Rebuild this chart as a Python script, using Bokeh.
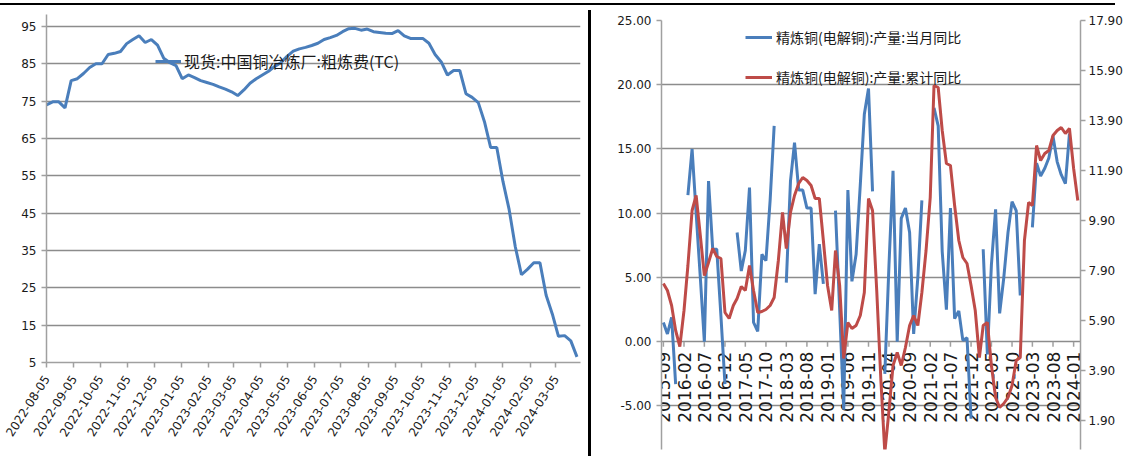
import numpy as np
import pandas as pd
from bokeh.plotting import figure
from bokeh.models import (ColumnDataSource, FixedTicker, DatetimeTickFormatter,
                          NumeralTickFormatter, LinearAxis, Range1d, Legend, LegendItem, Div)
from bokeh.core.properties import value
from bokeh.layouts import row, column
from bokeh.embed import file_html
from bokeh.resources import INLINE

# ---------------- data: left chart (weekly TC, USD/t) ----------------
tc_first_week = "2022-08-05"
tc_label = "现货:中国铜冶炼厂:粗炼费(TC)"
tc_values = [74.0, 74.8, 74.8, 73.2, 80.5, 81.0, 82.4, 84.0, 85.0, 85.0,
             87.5, 87.8, 88.3, 90.4, 91.5, 92.5, 90.7, 91.5, 90.0, 86.5,
             85.3, 84.5, 81.0, 82.0, 81.3, 80.5, 80.0, 79.5, 78.8, 78.2,
             77.5, 76.5, 78.0, 79.8, 81.0, 82.0, 83.0, 84.3, 85.3, 87.0,
             88.4, 89.0, 89.4, 89.9, 90.5, 91.5, 92.0, 92.6, 93.6, 94.4,
             94.5, 94.0, 94.3, 93.6, 93.4, 93.2, 93.1, 93.9, 92.5, 91.8,
             91.8, 91.8, 90.5, 87.5, 85.5, 82.0, 83.2, 83.2, 77.0, 76.0,
             74.6, 69.5, 62.6, 62.6, 53.5, 46.0, 36.0, 28.5, 30.0, 31.7,
             31.7, 23.0, 18.0, 12.0, 12.2, 10.8, 6.5]
tc_tick_dates = ["2022-08-05", "2022-09-05", "2022-10-05", "2022-11-05", "2022-12-05",
                 "2023-01-05", "2023-02-05", "2023-03-05", "2023-04-05", "2023-05-05",
                 "2023-06-05", "2023-07-05", "2023-08-05", "2023-09-05", "2023-10-05",
                 "2023-11-05", "2023-12-05", "2024-01-05", "2024-02-05", "2024-03-05"]
tc_y_ticks = [5, 15, 25, 35, 45, 55, 65, 75, 85, 95]

# ---------------- data: right chart (monthly, %) ----------------
first_month = "2015-09"
monthly_label = "精炼铜(电解铜):产量:当月同比"
cumul_label = "精炼铜(电解铜):产量:累计同比"
monthly_yoy = [1.5, 0.6, 1.9, -3.3, None, None, 11.4, 15.0, 10.0, 5.0,
               0.0, 12.5, 7.2, 7.2, 2.0, -3.3, None, None, 8.5, 5.5,
               7.1, 12.0, 1.5, 0.8, 6.8, 6.3, 11.0, 16.8, None, None,
               4.6, 12.5, 15.5, 11.8, 11.8, 10.4, 10.4, 3.7, 7.6, 4.5,
               None, None, 10.2, 2.5, -5.3, 11.8, 4.7, 6.8, 12.2, 17.7,
               19.7, 11.7, None, None, -2.5, 6.0, 13.3, 0.0, 9.6, 10.4,
               8.5, 0.6, 5.0, 11.0, None, None, 18.2, 16.8, 7.0, 2.5,
               10.4, 1.8, 2.4, 0.1, 0.3, -6.0, None, None, 7.2, -1.0,
               6.0, 10.3, 2.2, 5.0, 8.5, 10.9, 10.2, 3.6, None, None,
               8.9, 13.9, 12.9, 13.5, 14.3, 16.0, 14.0, 13.0, 12.3, 16.2,
               None, None]
cumul_yoy = [7.38, 7.10, 6.50, 5.50, 4.86, 6.30, 8.10, 10.30, 10.90, 9.30,
             7.70, 8.22, 8.78, 8.46, 8.38, 6.22, 5.98, 6.50, 6.78, 7.26,
             7.10, 8.10, 7.10, 6.22, 6.26, 6.34, 6.50, 6.82, 8.30, 10.22,
             8.78, 10.22, 10.90, 11.38, 11.62, 11.50, 11.30, 10.78, 10.78, 9.10,
             7.30, 6.30, 8.70, 7.30, 4.38, 5.82, 5.58, 5.70, 6.10, 7.02,
             10.78, 10.30, 7.10, 3.50, 0.62, 2.30, 4.10, 4.62, 4.10, 4.82,
             5.70, 6.10, 5.70, 7.02, 8.70, 10.82, 15.30, 15.22, 13.50, 12.18,
             12.10, 10.50, 9.10, 8.42, 8.18, 7.30, 6.30, 4.42, 5.70, 5.82,
             4.10, 2.82, 2.42, 2.58, 2.82, 3.30, 4.30, 4.42, 9.10, 10.62,
             10.50, 12.90, 12.30, 12.58, 12.70, 13.30, 13.50, 13.62, 13.38, 13.58,
             11.98, 10.70]
month_ticks = ["2015-09", "2016-02", "2016-07", "2016-12", "2017-05", "2017-10",
               "2018-03", "2018-08", "2019-01", "2019-06", "2019-11", "2020-04",
               "2020-09", "2021-02", "2021-07", "2021-12", "2022-05", "2022-10",
               "2023-03", "2023-08", "2024-01"]
left_ticks = [-5, 0, 5, 10, 15, 20, 25]
right_ticks = [1.9, 3.9, 5.9, 7.9, 9.9, 11.9, 13.9, 15.9, 17.9]

# ---------------- styling ----------------
FONT = "DejaVu Sans"
CJK = "Noto Sans CJK SC"
BLUE = "#4A7EBB"
RED = "#BE4B48"
GRID = "#8C8C8C"
AXIS = "#A0A0A0"
TXT = "#1A1A1A"
DT_FIELDS = ["microseconds", "milliseconds", "seconds", "minsec", "minutes",
             "hourmin", "hours", "days", "months", "years"]
FIG_H = 446


def ms(s):
    return pd.Timestamp(s).value / 1e6


def style_axis(ax, size):
    ax.axis_line_color = AXIS
    ax.axis_line_width = 1.5
    ax.major_tick_line_color = AXIS
    ax.major_tick_line_width = 1.5
    ax.major_tick_out = 5
    ax.major_tick_in = 0
    ax.minor_tick_line_color = None
    ax.major_label_text_font = FONT
    ax.major_label_text_font_size = size
    ax.major_label_text_color = TXT


def no_frame_align(p):
    if "frame_align" in p.properties():
        p.frame_align = False


# ---------------- left chart ----------------
src1 = ColumnDataSource(dict(
    date=pd.date_range(tc_first_week, periods=len(tc_values), freq="7D"),
    tc=tc_values))

p1 = figure(width=583, height=FIG_H, x_axis_type="datetime",
            output_backend="svg", toolbar_location=None,
            x_range=Range1d(ms("2022-08-05"), ms("2024-04-02")),
            y_range=Range1d(5, 98.2),
            min_border_left=46, min_border_right=3,
            min_border_top=9, min_border_bottom=89)
no_frame_align(p1)
r1 = p1.line("date", "tc", source=src1, line_width=3, line_color=BLUE)

p1.outline_line_color = None
p1.xgrid.visible = False
p1.ygrid.ticker = FixedTicker(ticks=tc_y_ticks)
p1.ygrid.grid_line_color = GRID
p1.ygrid.grid_line_width = 1.5
p1.yaxis.ticker = FixedTicker(ticks=tc_y_ticks)
p1.xaxis.ticker = FixedTicker(ticks=[ms(d) for d in tc_tick_dates])
p1.xaxis.formatter = DatetimeTickFormatter(**{f: "%Y-%m-%d" for f in DT_FIELDS})
p1.xaxis.major_label_orientation = 1.0
style_axis(p1.xaxis[0], "12px")
p1.xaxis.major_label_standoff = 9
style_axis(p1.yaxis[0], "12px")

leg1 = Legend(items=[LegendItem(label=tc_label, renderers=[r1])],
              location=(109, 289), padding=0, margin=0, spacing=0,
              border_line_color=None, background_fill_alpha=0,
              glyph_width=26, glyph_height=20, label_height=20, label_standoff=3,
              label_text_font=CJK, label_text_font_size="16px", label_text_color=TXT)
p1.add_layout(leg1)

# ---------------- right chart ----------------
months = pd.date_range(first_month + "-01", periods=len(monthly_yoy), freq="MS")
src2 = ColumnDataSource(dict(
    month=months,
    m=np.array(monthly_yoy, dtype=float),
    c=np.array(cumul_yoy, dtype=float)))
tick_src = ColumnDataSource(dict(
    x=[pd.Timestamp(m + "-01") for m in month_ticks],
    y=[0.0] * len(month_ticks),
    label=month_ticks))

p2 = figure(width=529, height=FIG_H, x_axis_type="datetime",
            output_backend="svg", toolbar_location=None,
            x_range=Range1d(ms("2015-08-18"), ms("2024-02-21")),
            y_range=Range1d(-8.39, 25),
            min_border_left=65, min_border_right=0,
            min_border_top=15, min_border_bottom=2)
no_frame_align(p2)
p2.extra_y_ranges = {"cum": Range1d(0.74, 17.9)}

p2.outline_line_color = None
p2.xgrid.visible = False
p2.ygrid.ticker = FixedTicker(ticks=left_ticks)
p2.ygrid.grid_line_color = GRID
p2.ygrid.grid_line_width = 1.5

# category axis crossing at 0 (ticks + vertical labels)
p2.xaxis.visible = False
p2.segment(x0="x", y0="y", x1="x", y1=-0.4, source=tick_src,
           line_color=AXIS, line_width=1.5)
p2.text(x="x", y="y", text="label", source=tick_src, angle=np.pi / 2,
        y_offset=10, text_align="right", text_baseline="middle",
        text_font=value(FONT), text_font_size="17px", text_color=TXT)

rb = p2.line("month", "m", source=src2, line_width=3, line_color=BLUE)
rr = p2.line("month", "c", source=src2, line_width=3, line_color=RED,
             y_range_name="cum")

p2.yaxis.ticker = FixedTicker(ticks=left_ticks)
p2.yaxis.formatter = NumeralTickFormatter(format="0.00")
style_axis(p2.yaxis[0], "12px")

rax = LinearAxis(y_range_name="cum", ticker=FixedTicker(ticks=right_ticks),
                 formatter=NumeralTickFormatter(format="0.00"))
style_axis(rax, "12px")
rax.major_label_standoff = 3
p2.add_layout(rax, "right")

leg2 = Legend(items=[LegendItem(label=monthly_label, renderers=[rb]),
                     LegendItem(label=cumul_label, renderers=[rr])],
              location=(84, 362), padding=0, margin=0, spacing=20,
              border_line_color=None, background_fill_alpha=0,
              glyph_width=27, glyph_height=20, label_height=20, label_standoff=4,
              label_text_font=CJK, label_text_font_size="14px", label_text_color=TXT)
p2.add_layout(leg2)

top_bar = Div(text="", width=1115, height=2, margin=(3, 0, 0, 0),
              styles={"background-color": "#000000"})
sep = Div(text="", width=3, height=FIG_H, styles={"background-color": "#000000"})

layout = column(top_bar, row(p1, sep, p2))

open("out.html", "w").write(file_html(layout, INLINE))
